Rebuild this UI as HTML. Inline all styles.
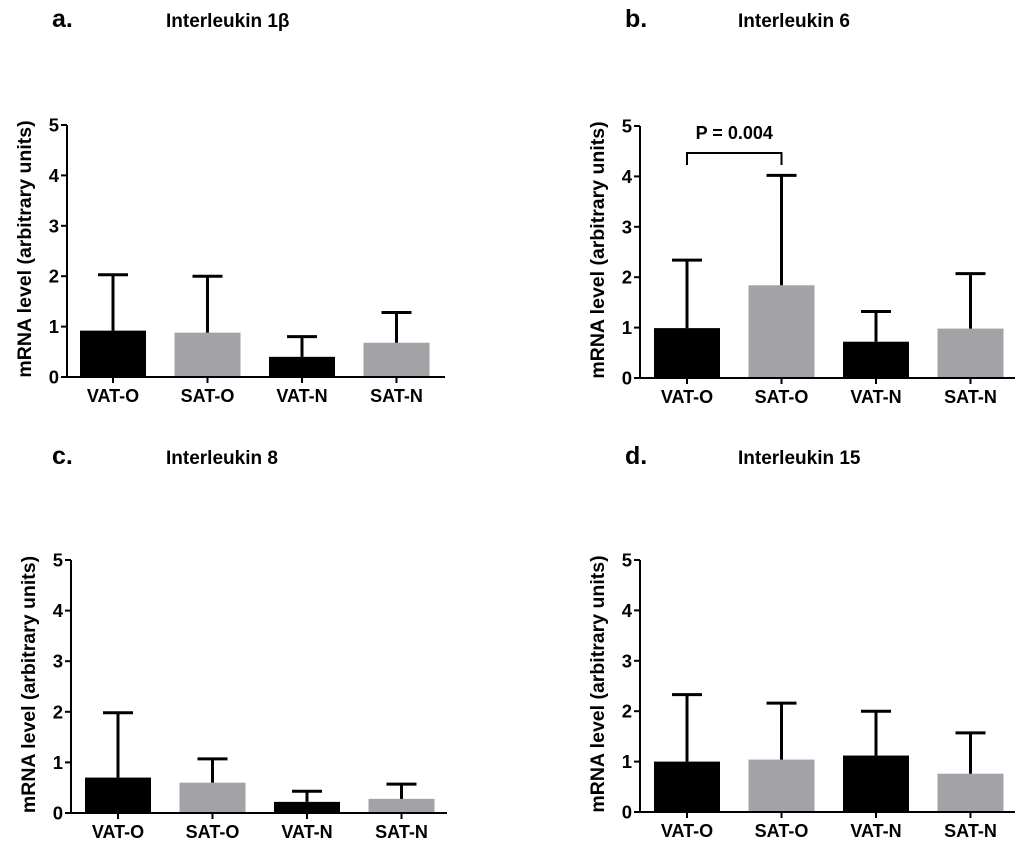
<!DOCTYPE html>
<html><head><meta charset="utf-8"><style>
body{margin:0;background:#fff;}
svg{display:block;font-family:"Liberation Sans",sans-serif;font-weight:bold;}
</style></head><body>
<svg id="c" width="1024" height="847" viewBox="0 0 1024 847"></svg>
<script>
const categories=["VAT-O","SAT-O","VAT-N","SAT-N"];
const tickLabels=["0","1","2","3","4","5"];
const titles=["Interleukin 1β","Interleukin 6","Interleukin 8","Interleukin 15"];
const letters=["a.","b.","c.","d."];
const meanA=[0.92,0.88,0.40,0.68];
const upperA=[2.03,2.00,0.80,1.28];
const meanB=[0.99,1.84,0.72,0.98];
const upperB=[2.34,4.02,1.32,2.07];
const meanC=[0.70,0.60,0.22,0.28];
const upperC=[1.98,1.07,0.43,0.57];
const meanD=[1.00,1.04,1.12,0.76];
const upperD=[2.33,2.16,2.00,1.57];
const pText="P = 0.004";

const NS="http://www.w3.org/2000/svg";
const svg=document.getElementById('c');
function mk(tag,attrs,parent,text){const e=document.createElementNS(NS,tag);for(const k in attrs)e.setAttribute(k,attrs[k]);if(text!==undefined)e.textContent=text;(parent||svg).appendChild(e);return e;}
const panels=[
 {ax:67,y0:377,y5:125,first:113,xe:445,tx:52,ty:27,ttx:166,mean:meanA,up:upperA},
 {ax:640,y0:378,y5:126,first:687,xe:1015,tx:625,ty:27,ttx:738,mean:meanB,up:upperB},
 {ax:71,y0:813,y5:560,first:118,xe:447,tx:52,ty:464,ttx:166,mean:meanC,up:upperC},
 {ax:640,y0:812,y5:560,first:687,xe:1015,tx:625,ty:464,ttx:738,mean:meanD,up:upperD}
];
const colors=["#000","#a3a2a6","#000","#a3a2a6"];
panels.forEach((p,pi)=>{
 const g=mk('g',{});
 
 
 const yS=v=>p.y0-(p.y0-p.y5)*v/5;
 const xS=i=>p.first+i*94.5;
 let t=mk('text',{x:p.tx,y:p.ty,'font-size':25},g,letters[pi]);
 
 t=mk('text',{x:p.ttx,y:p.ty,'font-size':19},g,titles[pi]);
 
 const cy=(p.y0+p.y5)/2-2;
 t=mk('text',{x:0,y:0,'font-size':19.5,'text-anchor':'middle',transform:`translate(${p.ax-36},${cy}) rotate(-90)`},g,"mRNA level (arbitrary units)");
 
 categories.forEach((c,i)=>{
  const x=xS(i);
  const r=mk('rect',{x:x-33,y:yS(p.mean[i]),width:66,height:p.y0-yS(p.mean[i]),fill:colors[i]},g);
  
  const e=mk('path',{d:`M${x} ${yS(p.mean[i])}V${yS(p.up[i])}M${x-15} ${yS(p.up[i])}H${x+15}`,stroke:'#000','stroke-width':3,fill:'none'},g);
  
  mk('line',{x1:x,x2:x,y1:p.y0,y2:p.y0+6,stroke:'#000','stroke-width':2},g);
  const l=mk('text',{x:x,y:p.y0+25,'font-size':18,'text-anchor':'middle'},g,c);
  
 });
 const ax=mk('path',{d:`M${p.ax} ${p.y5}V${p.y0}H${p.xe}`,stroke:'#000','stroke-width':2,fill:'none'},g);
 
 tickLabels.forEach((lb,k)=>{
  const y=yS(+lb);
  mk('line',{x1:p.ax-6,x2:p.ax,y1:y,y2:y,stroke:'#000','stroke-width':2},g);
  const l=mk('text',{x:p.ax-8,y:y+6.5,'font-size':18.5,'text-anchor':'end'},g,lb);
  
 });
 if(pi===1){
  const x1=xS(0),x2=xS(1);
  const br=mk('path',{d:`M${x1} 165V153H${x2}V165`,stroke:'#000','stroke-width':2,fill:'none'},g);
  
  const pt=mk('text',{x:(x1+x2)/2,y:139,'font-size':18,'text-anchor':'middle'},g,pText);
  
 }
});
</script>
</body></html>
